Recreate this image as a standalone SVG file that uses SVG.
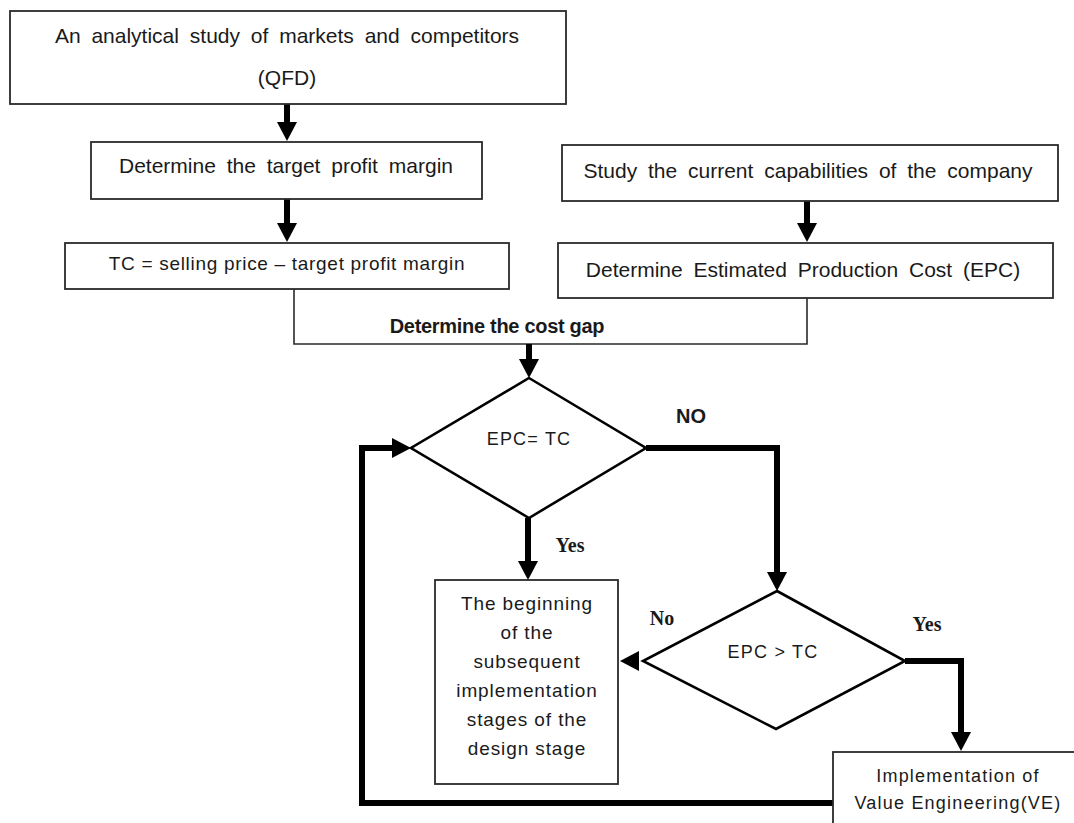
<svg xmlns="http://www.w3.org/2000/svg" width="1074" height="823" viewBox="0 0 1074 823">
  <style>
    .box { fill: #fff; stroke: #2a2a2a; stroke-width: 1.8; }
    .dia { fill: #fff; stroke: #000; stroke-width: 2.6; }
    .ar { fill: none; stroke: #000; stroke-width: 6; stroke-linejoin: miter; marker-end: url(#ah); }
    .thin { fill: none; stroke: #2a2a2a; stroke-width: 1.6; }
    .t1 { font-family: "Liberation Sans", Arial, sans-serif; font-size: 21px; word-spacing: 5px; fill: #1a1a1a; text-anchor: middle; }
    .t2 { font-family: "Liberation Sans", Arial, sans-serif; font-size: 18px; letter-spacing: 1.2px; fill: #1a1a1a; text-anchor: middle; }
    .t4 { font-family: "Liberation Sans", Arial, sans-serif; font-size: 19px; letter-spacing: 0.9px; fill: #1a1a1a; text-anchor: middle; }
    .t3 { font-family: "Liberation Sans", Arial, sans-serif; font-size: 19px; letter-spacing: 0.7px; fill: #1a1a1a; text-anchor: middle; }
    .tb { font-family: "Liberation Sans", Arial, sans-serif; font-size: 20px; font-weight: bold; fill: #1a1a1a; text-anchor: middle; }
    .ts { font-family: "Liberation Serif", "Times New Roman", serif; font-size: 20px; font-weight: bold; fill: #1a1a1a; text-anchor: middle; }
  </style>
  <defs>
    <marker id="ah" markerUnits="userSpaceOnUse" markerWidth="20" markerHeight="20" refX="0" refY="10" orient="auto">
      <path d="M0,0 L19,10 L0,20 z" fill="#000"/>
    </marker>
  </defs>
  <rect width="1074" height="823" fill="#fff"/>

  <g id="connectors">
    <path class="ar" d="M287,104 V122"/>
    <path class="ar" d="M287,199 V223"/>
    <path class="ar" d="M807,201 V223"/>
    <path class="thin" d="M294,289 V344 H807 V298"/>
    <path class="ar" d="M529,344 V359"/>
    <path class="ar" d="M528,518 V561"/>
    <path class="ar" d="M646,448 H777 V572"/>
    <path class="ar" d="M905,661 H961 V732"/>
    <path class="ar" d="M833,803 H362 V448 H392"/>
  </g>

  <g id="node-qfd">
    <rect class="box" x="10" y="11" width="556" height="93"/>
    <text class="t1" x="287" y="43">An analytical study of markets and competitors</text>
    <text class="t1" x="287" y="85">(QFD)</text>
  </g>
  <g id="node-profit">
    <rect class="box" x="91" y="142" width="391" height="57"/>
    <text class="t1" x="286" y="173">Determine the target profit margin</text>
  </g>
  <g id="node-tc">
    <rect class="box" x="65" y="243" width="444" height="46"/>
    <text class="t3" x="287" y="270">TC = selling price – target profit margin</text>
  </g>
  <g id="node-study">
    <rect class="box" x="562" y="145" width="496" height="56"/>
    <text class="t1" x="808" y="178">Study the current capabilities of the company</text>
  </g>
  <g id="node-epc">
    <rect class="box" x="558" y="243" width="495" height="55"/>
    <text class="t1" x="803" y="277">Determine Estimated Production Cost (EPC)</text>
  </g>
  <g id="node-gap">
    <text class="tb" x="497" y="333" font-size="20.5" letter-spacing="-0.3">Determine the cost gap</text>
  </g>
  <g id="node-dec1">
    <polygon class="dia" points="529,378 646,448 529,518 411,448"/>
    <text class="t2" x="529" y="445" letter-spacing="0">EPC= TC</text>
  </g>
  <g id="labels">
    <text class="tb" x="691" y="423">NO</text>
    <text class="ts" x="570" y="552">Yes</text>
    <text class="ts" x="662" y="625">No</text>
    <text class="ts" x="927" y="631">Yes</text>
  </g>
  <g id="node-begin">
    <rect class="box" x="435" y="580" width="183" height="204"/>
    <text class="t4" x="527" y="610">The beginning</text>
    <text class="t4" x="527" y="639">of the</text>
    <text class="t4" x="527" y="668">subsequent</text>
    <text class="t4" x="527" y="697">implementation</text>
    <text class="t4" x="527" y="726">stages of the</text>
    <text class="t4" x="527" y="755">design stage</text>
  </g>
  <g id="node-dec2">
    <polygon class="dia" points="777,591 905,661 776,729 643,661"/>
    <text class="t2" x="773" y="658" letter-spacing="0.5">EPC &gt; TC</text>
    <path d="M639,651 L620,661 L639,671 z" fill="#000"/>
  </g>
  <g id="node-ve">
    <rect class="box" x="833" y="752" width="260" height="90"/>
    <text class="t2" x="958" y="782">Implementation of</text>
    <text class="t2" x="958" y="809">Value Engineering(VE)</text>
  </g>
</svg>
